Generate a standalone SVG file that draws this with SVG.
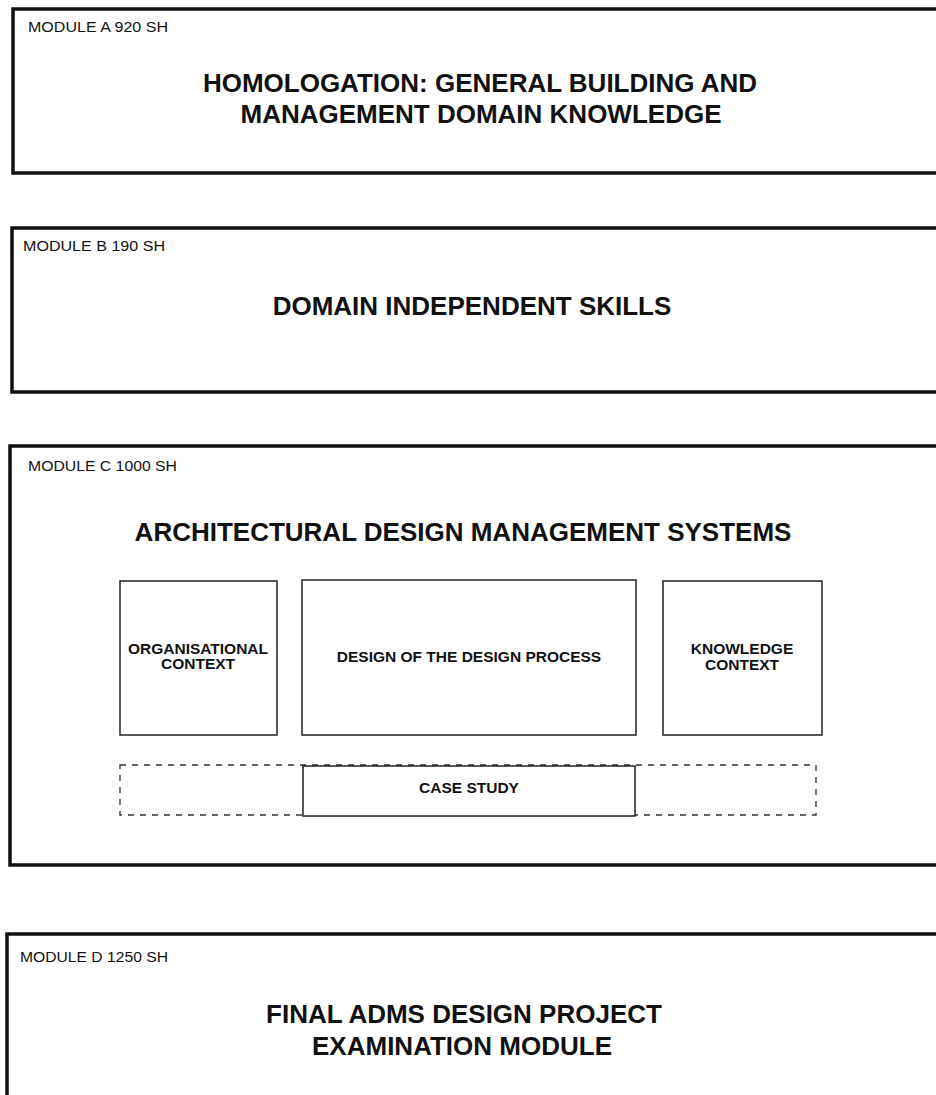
<svg xmlns="http://www.w3.org/2000/svg" width="936" height="1095" viewBox="0 0 936 1095">
<style>
  .module { fill: #ffffff; stroke: #111111; stroke-width: 3.5; }
  .inner { fill: #ffffff; stroke: #222222; stroke-width: 1.5; }
  .dashed { fill: none; stroke: #333333; stroke-width: 1.3; stroke-dasharray: 6 6; }
  .label { font-family: "Liberation Sans", Arial, sans-serif; font-size: 14px; fill: #111111; }
  .title { font-family: "Liberation Sans", Arial, sans-serif; font-size: 26px; font-weight: bold; fill: #111111; text-anchor: middle; }
  .sub { font-family: "Liberation Sans", Arial, sans-serif; font-size: 15.5px; font-weight: bold; fill: #111111; text-anchor: middle; }
</style>
<rect x="0" y="0" width="936" height="1095" fill="#ffffff"/>

<g id="module-a">
  <rect class="module" x="13" y="9" width="940" height="164"/>
  <text class="label" x="28" y="32" textLength="140" lengthAdjust="spacingAndGlyphs">MODULE A 920 SH</text>
  <text class="title" x="480" y="92">HOMOLOGATION: GENERAL BUILDING AND</text>
  <text class="title" x="481" y="123">MANAGEMENT DOMAIN KNOWLEDGE</text>
</g>

<g id="module-b">
  <rect class="module" x="12" y="228" width="940" height="164"/>
  <text class="label" x="23" y="251" textLength="142" lengthAdjust="spacingAndGlyphs">MODULE B 190 SH</text>
  <text class="title" x="472" y="315">DOMAIN INDEPENDENT SKILLS</text>
</g>

<g id="module-c">
  <rect class="module" x="10" y="446" width="942" height="419"/>
  <text class="label" x="28" y="471" textLength="149" lengthAdjust="spacingAndGlyphs">MODULE C 1000 SH</text>
  <text class="title" x="463" y="541">ARCHITECTURAL DESIGN MANAGEMENT SYSTEMS</text>
</g>

<g id="organisational-context">
  <rect class="inner" x="120" y="581" width="157" height="154"/>
  <text class="sub" x="198" y="654">ORGANISATIONAL</text>
  <text class="sub" x="198" y="669">CONTEXT</text>
</g>

<g id="design-of-the-design-process">
  <rect class="inner" x="302" y="580" width="334" height="155"/>
  <text class="sub" x="469" y="662">DESIGN OF THE DESIGN PROCESS</text>
</g>

<g id="knowledge-context">
  <rect class="inner" x="663" y="581" width="159" height="154"/>
  <text class="sub" x="742" y="654">KNOWLEDGE</text>
  <text class="sub" x="742" y="670">CONTEXT</text>
</g>

<g id="case-study-frame">
  <rect class="dashed" x="120" y="765" width="696" height="50"/>
</g>

<g id="case-study">
  <rect class="inner" x="303" y="766" width="332" height="50"/>
  <text class="sub" x="469" y="793">CASE STUDY</text>
</g>

<g id="module-d">
  <rect class="module" x="7" y="934" width="946" height="200"/>
  <text class="label" x="20" y="962" textLength="148" lengthAdjust="spacingAndGlyphs">MODULE D 1250 SH</text>
  <text class="title" x="464" y="1023">FINAL ADMS DESIGN PROJECT</text>
  <text class="title" x="462" y="1055">EXAMINATION MODULE</text>
</g>

<g id="connectors"/>
</svg>
